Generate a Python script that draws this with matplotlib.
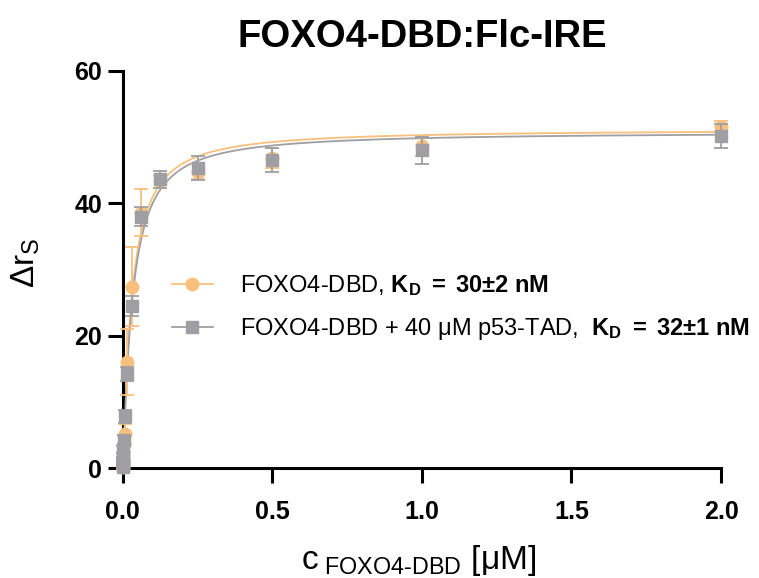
import numpy as np
import matplotlib
matplotlib.use("Agg")
from matplotlib import pyplot as plt
from matplotlib.lines import Line2D

plt.rcParams['font.family'] = ['Liberation Sans', 'DejaVu Sans']
plt.rcParams['mathtext.fontset'] = 'custom'
plt.rcParams['mathtext.rm'] = 'Liberation Sans'
plt.rcParams['mathtext.it'] = 'Liberation Sans'
plt.rcParams['mathtext.bf'] = 'Liberation Sans:bold'

# FOXO4-DBD concentration [uM], serial 2-fold dilution
conc = [2.0, 1.0, 0.5, 0.25, 0.125, 0.0625, 0.03125, 0.015625, 0.0078125,
        0.0039063, 0.0019531, 0.0009766, 0.0004883, 0.0002441, 0.0001221, 0.0000610]

# FOXO4-DBD alone
foxo_mean = [51.6, 48.6, 46.8, 44.8, 43.3, 38.6, 27.4, 16.0, 5.2, 3.6, 2.3, 1.5, 1.0, 0.6, 0.3, 0.1]
foxo_err = [0.8, 1.5, 1.5, 1.2, 1.0, 3.5, 6.0, 5.0, 1.5, 1.2, 1.0, 0.8, 0.5, 0.4, 0.3, 0.2]

# FOXO4-DBD + 40 uM p53-TAD
p53_mean = [50.2, 48.0, 46.5, 45.3, 43.6, 38.0, 24.5, 14.2, 7.8, 4.2, 2.8, 1.8, 1.2, 0.7, 0.4, 0.2]
p53_err = [1.8, 2.0, 1.8, 1.8, 1.3, 1.5, 1.5, 1.0, 1.0, 0.8, 0.6, 0.5, 0.4, 0.3, 0.2, 0.1]

# fit parameters (Bmax, KD [uM], Hill slope)
foxo_fit = (51.2, 0.030, 1.15)
p53_fit = (50.8, 0.032, 1.15)

orange = '#F9BF7C'
gray = '#9F9FA3'


def binding(x, bmax, kd, h):
    return bmax * x**h / (kd**h + x**h)


fig = plt.figure(figsize=(7.59, 5.78), dpi=100)
ax = fig.add_axes([0.1617, 0.1903, 0.950 - 0.1617, 0.8772 - 0.1903])

xf = np.concatenate([[0.0], np.geomspace(1e-5, 2.0, 600)])
ax.plot(xf, binding(xf, *foxo_fit), color=orange, lw=1.3, zorder=2)
ax.plot(xf, binding(xf, *p53_fit), color=gray, lw=1.3, zorder=3)

ax.errorbar(conc, foxo_mean, yerr=foxo_err, fmt='o', color=orange, ms=9,
            capsize=5, elinewidth=1.3, capthick=1.3, clip_on=False, zorder=4)
ax.errorbar(conc, p53_mean, yerr=p53_err, fmt='s', color=gray, ms=9,
            capsize=5, elinewidth=1.3, capthick=1.3, clip_on=False, zorder=5)

ax.set_xlim(0, 2.0)
ax.set_ylim(0, 60)
ax.set_xticks([0.0, 0.5, 1.0, 1.5, 2.0])
ax.set_yticks([0, 20, 40, 60])
ax.set_xticklabels(['0.0', '0.5', '1.0', '1.5', '2.0'])
for s in ['top', 'right']:
    ax.spines[s].set_visible(False)
for s in ['left', 'bottom']:
    ax.spines[s].set_linewidth(2.2)
ax.tick_params(axis='both', width=2.2, length=11, labelsize=18)
ax.tick_params(axis='x', pad=12)
ax.tick_params(axis='y', pad=4)
for lab in ax.get_xticklabels() + ax.get_yticklabels():
    lab.set_fontweight('bold')

fig.text(0.556, 0.936, 'FOXO4-DBD:Flc-IRE', ha='center', va='center',
         fontsize=27.5, fontweight='bold')
fig.text(0.034, 0.545, r'$\Delta\mathrm{r}_\mathrm{S}$', rotation=90,
         ha='center', va='center', fontsize=24)
fig.text(0.551, 0.030, r'c$_{\text{ FOXO4-DBD}}$ [$\mu$M]', ha='center',
         va='center', fontsize=24)

handles = [Line2D([], [], color=orange, marker='o', ms=9, lw=1.3),
           Line2D([], [], color=gray, marker='s', ms=9, lw=1.3)]
labels = [r'FOXO4-DBD, $\mathbf{K_D\ {=}\ 30{\pm}2\ nM}$',
          r'FOXO4-DBD + 40 $\mu$M p53-TAD,  $\mathbf{K_D\ {=}\ 32{\pm}1\ nM}$']
fig.legend(handles, labels, loc='upper left', bbox_to_anchor=(0.226, 0.527),
           frameon=False, fontsize=17, handlelength=1.75, handletextpad=1.15,
           labelspacing=0.75, borderpad=0, borderaxespad=0)

fig.savefig('out.png', dpi=100)
plt.close(fig)
